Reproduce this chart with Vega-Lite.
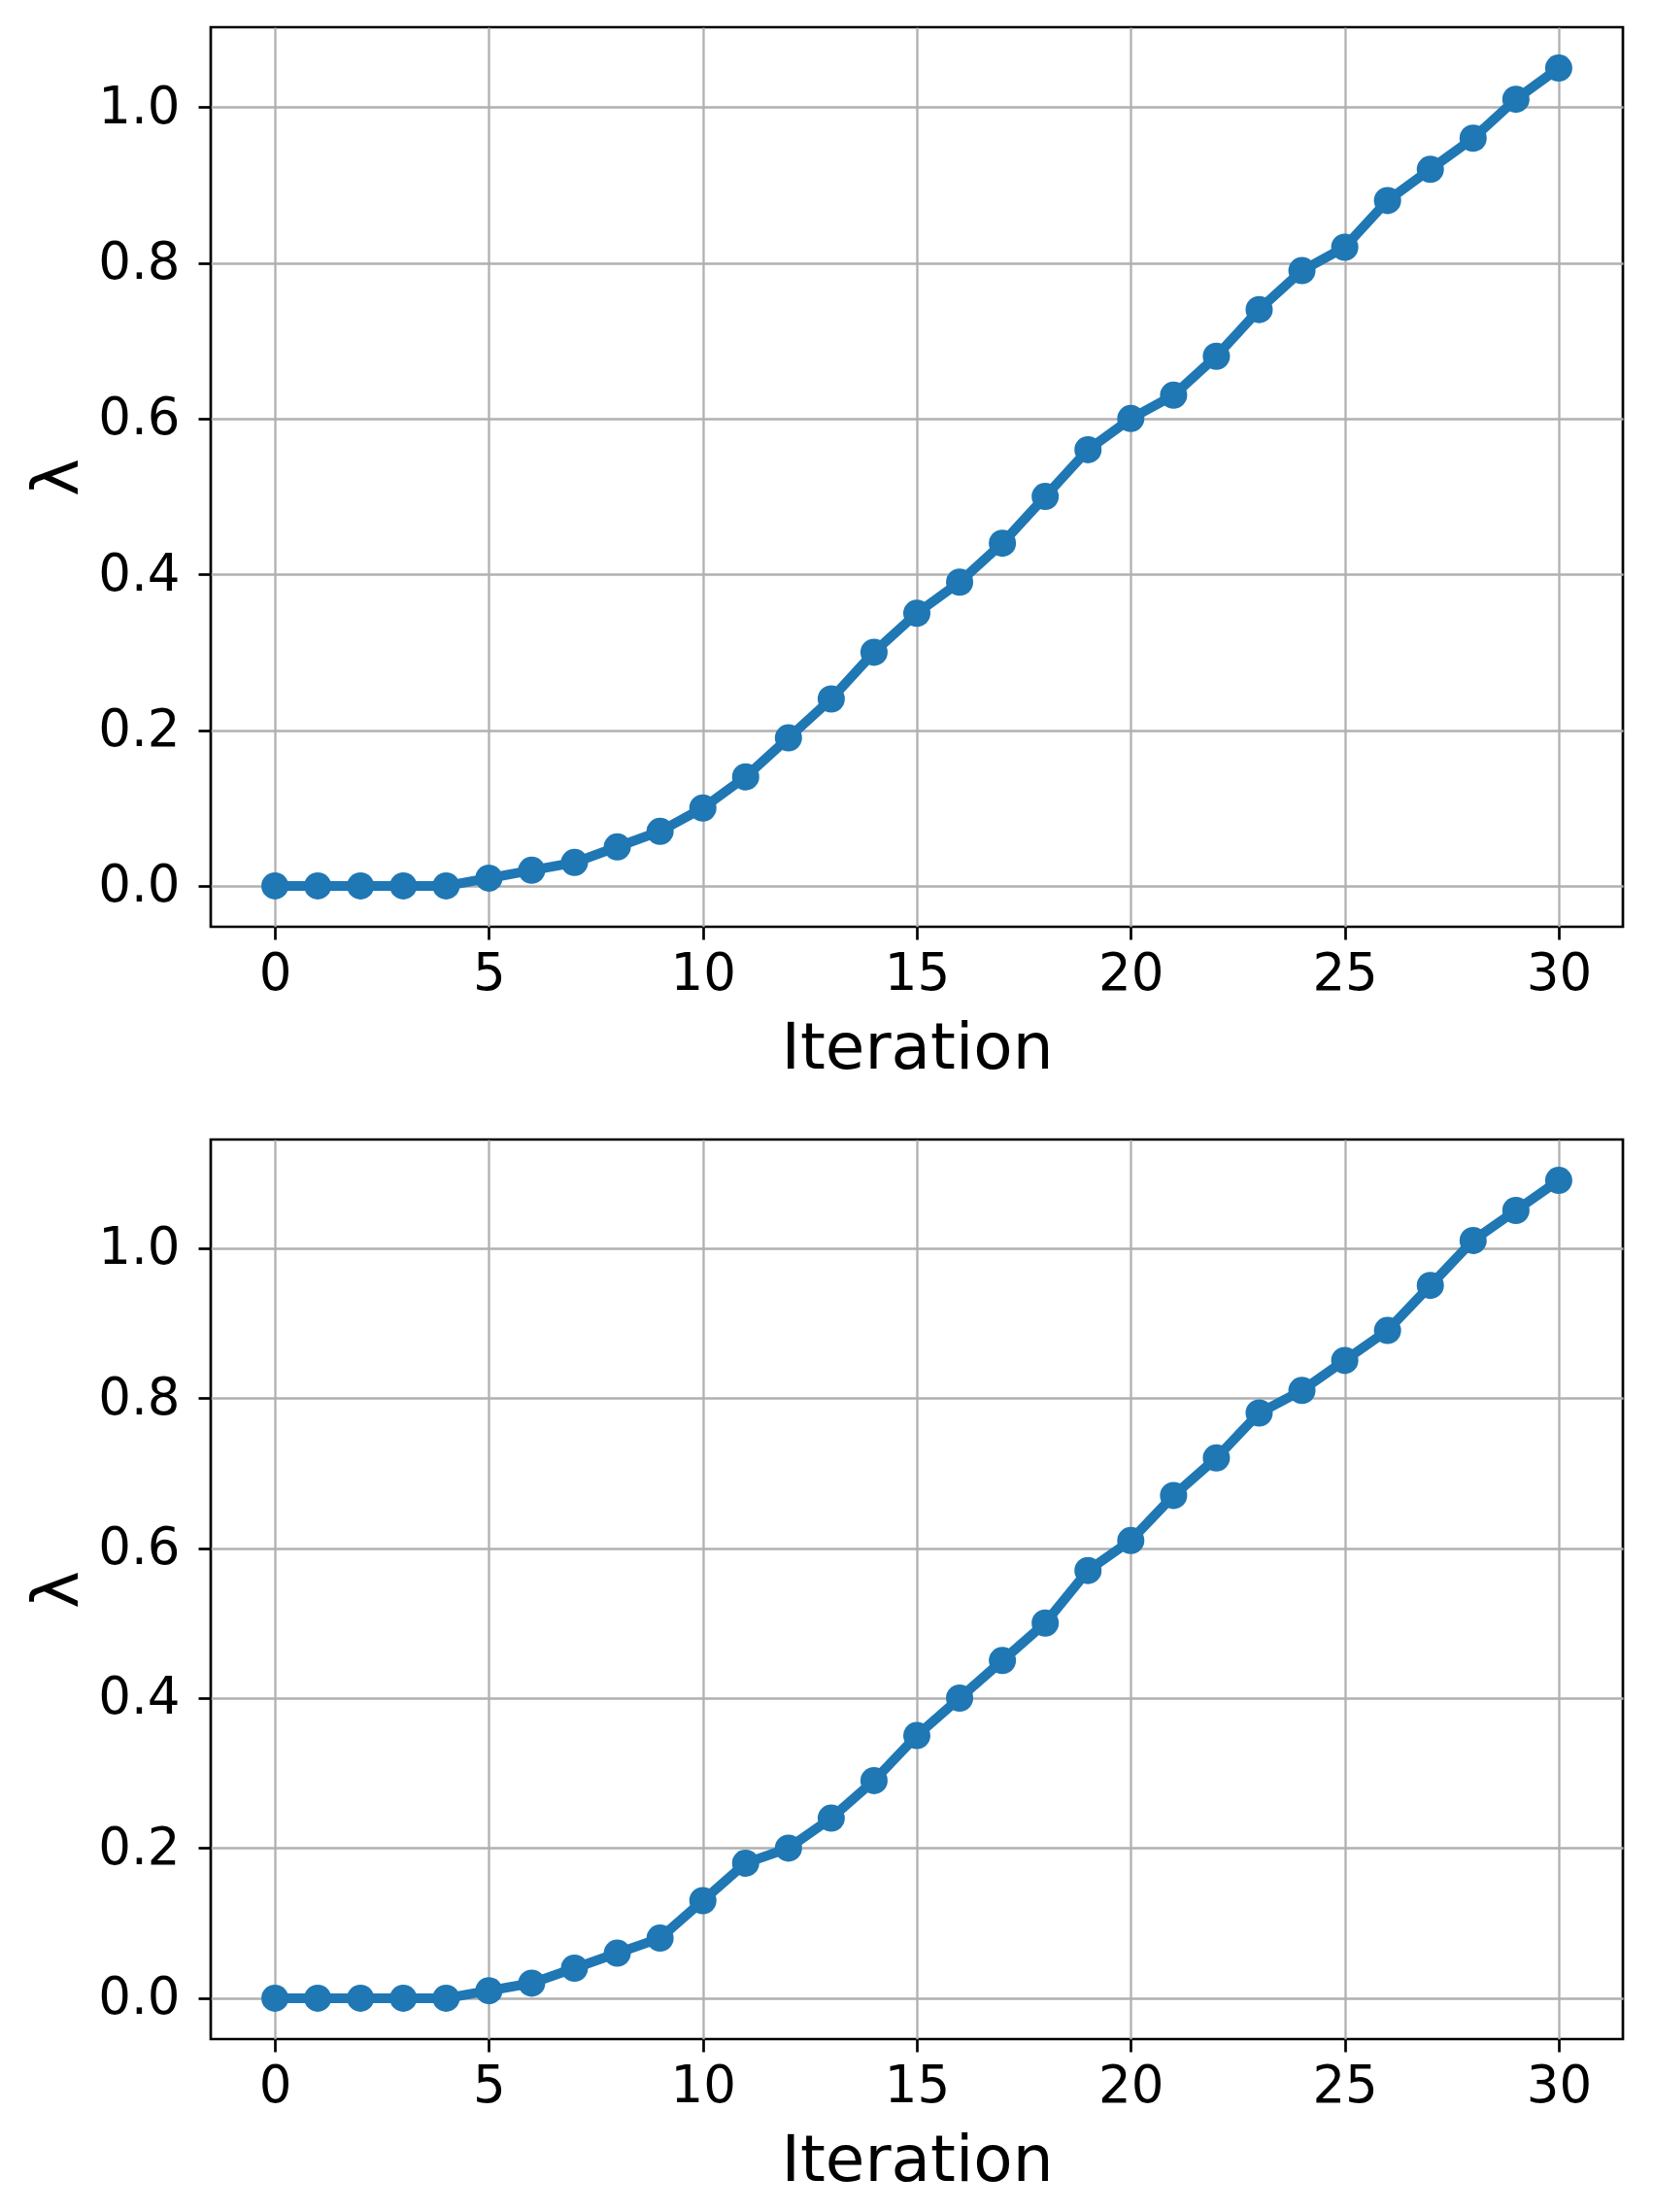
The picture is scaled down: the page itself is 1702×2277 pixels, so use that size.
{
  "$schema": "https://vega.github.io/schema/vega-lite/v6.json",
  "description": "Lambda per iteration, two runs",
  "padding": {"left": 25, "top": 26, "right": 20, "bottom": 10},
  "datasets": {
    "top": [
      {"iteration": 0, "lambda": 0.0}, {"iteration": 1, "lambda": 0.0}, {"iteration": 2, "lambda": 0.0},
      {"iteration": 3, "lambda": 0.0}, {"iteration": 4, "lambda": 0.0}, {"iteration": 5, "lambda": 0.01},
      {"iteration": 6, "lambda": 0.02}, {"iteration": 7, "lambda": 0.03}, {"iteration": 8, "lambda": 0.05},
      {"iteration": 9, "lambda": 0.07}, {"iteration": 10, "lambda": 0.10}, {"iteration": 11, "lambda": 0.14},
      {"iteration": 12, "lambda": 0.19}, {"iteration": 13, "lambda": 0.24}, {"iteration": 14, "lambda": 0.30},
      {"iteration": 15, "lambda": 0.35}, {"iteration": 16, "lambda": 0.39}, {"iteration": 17, "lambda": 0.44},
      {"iteration": 18, "lambda": 0.50}, {"iteration": 19, "lambda": 0.56}, {"iteration": 20, "lambda": 0.60},
      {"iteration": 21, "lambda": 0.63}, {"iteration": 22, "lambda": 0.68}, {"iteration": 23, "lambda": 0.74},
      {"iteration": 24, "lambda": 0.79}, {"iteration": 25, "lambda": 0.82}, {"iteration": 26, "lambda": 0.88},
      {"iteration": 27, "lambda": 0.92}, {"iteration": 28, "lambda": 0.96}, {"iteration": 29, "lambda": 1.01},
      {"iteration": 30, "lambda": 1.05}
    ],
    "bottom": [
      {"iteration": 0, "lambda": 0.0}, {"iteration": 1, "lambda": 0.0}, {"iteration": 2, "lambda": 0.0},
      {"iteration": 3, "lambda": 0.0}, {"iteration": 4, "lambda": 0.0}, {"iteration": 5, "lambda": 0.01},
      {"iteration": 6, "lambda": 0.02}, {"iteration": 7, "lambda": 0.04}, {"iteration": 8, "lambda": 0.06},
      {"iteration": 9, "lambda": 0.08}, {"iteration": 10, "lambda": 0.13}, {"iteration": 11, "lambda": 0.18},
      {"iteration": 12, "lambda": 0.20}, {"iteration": 13, "lambda": 0.24}, {"iteration": 14, "lambda": 0.29},
      {"iteration": 15, "lambda": 0.35}, {"iteration": 16, "lambda": 0.40}, {"iteration": 17, "lambda": 0.45},
      {"iteration": 18, "lambda": 0.50}, {"iteration": 19, "lambda": 0.57}, {"iteration": 20, "lambda": 0.61},
      {"iteration": 21, "lambda": 0.67}, {"iteration": 22, "lambda": 0.72}, {"iteration": 23, "lambda": 0.78},
      {"iteration": 24, "lambda": 0.81}, {"iteration": 25, "lambda": 0.85}, {"iteration": 26, "lambda": 0.89},
      {"iteration": 27, "lambda": 0.95}, {"iteration": 28, "lambda": 1.01}, {"iteration": 29, "lambda": 1.05},
      {"iteration": 30, "lambda": 1.09}
    ]
  },
  "spacing": 219,
  "bounds": "flush",
  "vconcat": [
    {
      "width": 1454,
      "height": 926,
      "data": {"name": "top"},
      "encoding": {
        "x": {
          "field": "iteration", "type": "quantitative", "title": "Iteration",
          "scale": {"domain": [-1.5, 31.5], "nice": false, "zero": false},
          "axis": {"values": [0, 5, 10, 15, 20, 25, 30]}
        },
        "y": {
          "field": "lambda", "type": "quantitative", "title": "λ",
          "scale": {"domain": [-0.0525, 1.1025], "nice": false, "zero": false},
          "axis": {"values": [0, 0.2, 0.4, 0.6, 0.8, 1.0], "format": ".1f"}
        }
      },
      "layer": [
        {"mark": {"type": "line", "color": "#1f77b4", "strokeWidth": 10}},
        {"mark": {"type": "point", "filled": true, "color": "#1f77b4", "opacity": 1, "size": 784}}
      ]
    },
    {
      "width": 1454,
      "height": 926,
      "data": {"name": "bottom"},
      "encoding": {
        "x": {
          "field": "iteration", "type": "quantitative", "title": "Iteration",
          "scale": {"domain": [-1.5, 31.5], "nice": false, "zero": false},
          "axis": {"values": [0, 5, 10, 15, 20, 25, 30]}
        },
        "y": {
          "field": "lambda", "type": "quantitative", "title": "λ",
          "scale": {"domain": [-0.0545, 1.1445], "nice": false, "zero": false},
          "axis": {"values": [0, 0.2, 0.4, 0.6, 0.8, 1.0], "format": ".1f"}
        }
      },
      "layer": [
        {"mark": {"type": "line", "color": "#1f77b4", "strokeWidth": 10}},
        {"mark": {"type": "point", "filled": true, "color": "#1f77b4", "opacity": 1, "size": 784}}
      ]
    }
  ],
  "config": {
    "font": "DejaVu Sans",
    "view": {"stroke": "black", "strokeWidth": 2.7},
    "axis": {
      "domain": false,
      "grid": true,
      "gridColor": "#b0b0b0",
      "gridWidth": 2.3,
      "gridOpacity": 1,
      "ticks": true,
      "tickColor": "black",
      "tickSize": 13,
      "tickWidth": 2.7,
      "labelFont": "DejaVu Sans",
      "labelFontSize": 53,
      "labelColor": "black",
      "titleFont": "DejaVu Sans",
      "titleFontSize": 66,
      "titleFontWeight": "normal",
      "titleColor": "black"
    },
    "axisX": {"labelPadding": 9, "titlePadding": 18},
    "axisY": {"labelPadding": 19, "titlePadding": 7}
  }
}
